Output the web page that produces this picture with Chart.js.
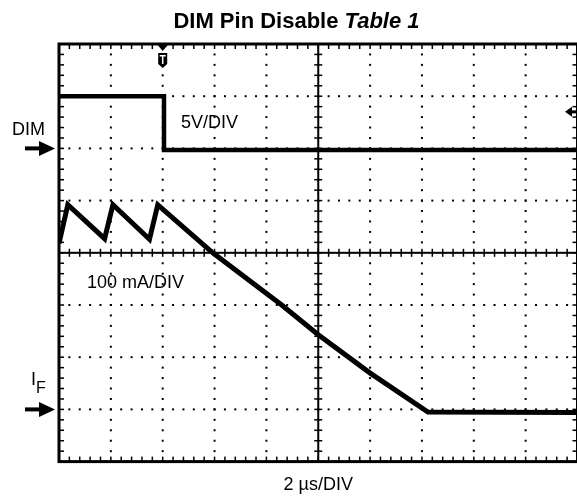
<!DOCTYPE html>
<html>
<head>
<meta charset="utf-8">
<title>DIM Pin Disable</title>
<script src="https://cdn.jsdelivr.net/npm/chart.js@4.4.0/dist/chart.umd.min.js"></script>
<style>
  html, body { margin: 0; padding: 0; background: #fff; overflow: hidden; }
  #wrap { position: relative; width: 580px; height: 498px; }
</style>
</head>
<body>
<div id="wrap"><canvas id="scope"></canvas></div>
<script>
// time base: 2 us/div, trigger at centre of screen
const dimTime = [-10, -5.95, -5.95, 10];
const dimVolts = [5.0, 5.0, -0.15, -0.15]; // 5 V/div

const ifTime = [-10, -9.66, -8.24, -7.92, -6.51, -6.19, -4.07, -1.41, 0, 1.99, 4.23, 10];
const ifCurrent = [318, 392, 327, 392, 326, 392, 300, 200, 143, 70, -5, -6]; // mA, 100 mA/div

const triggerTime = -6;
const triggerLevel = 3.5; // V on the DIM channel

const FONT = '"Liberation Sans", Arial, Helvetica, sans-serif';

const toPoints = (xs, ys) => xs.map((t, i) => ({ x: t, y: ys[i] }));

const graticule = {
  id: 'graticule',
  beforeDatasetsDraw(chart) {
    const { ctx, scales } = chart;
    const xs = [];
    const ys = [];
    for (let i = 0; i <= 10; i++) xs.push(scales.x.getPixelForValue(-10 + 2 * i));
    for (let j = 0; j <= 8; j++) ys.push(scales.yDim.getPixelForValue(10 - 5 * j));
    const dx = (xs[1] - xs[0]) / 5;
    const dy = (ys[1] - ys[0]) / 5;

    ctx.save();
    ctx.fillStyle = '#000';

    // dotted division lines
    for (let i = 1; i < 10; i++) {
      if (i === 5) continue;
      for (let k = 0; k <= 40; k++) ctx.fillRect(xs[i] - 1, ys[0] + k * dy - 1, 2, 2);
    }
    for (let j = 1; j < 8; j++) {
      if (j === 4) continue;
      for (let k = 0; k <= 50; k++) ctx.fillRect(xs[0] + k * dx - 1, ys[j] - 1, 2, 2);
    }

    // centre cross with minor ticks
    ctx.fillRect(xs[5] - 1, ys[0], 2, ys[8] - ys[0]);
    ctx.fillRect(xs[0], ys[4] - 1, xs[10] - xs[0], 2);
    for (let k = 0; k <= 40; k++) ctx.fillRect(xs[5] - 4, ys[0] + k * dy - 0.75, 8, 1.5);
    for (let k = 0; k <= 50; k++) ctx.fillRect(xs[0] + k * dx - 0.75, ys[4] - 4, 1.5, 8);

    // border with inward ticks
    ctx.strokeStyle = '#000';
    ctx.lineWidth = 3;
    ctx.strokeRect(xs[0], ys[0], xs[10] - xs[0], ys[8] - ys[0]);
    for (let k = 0; k <= 50; k++) {
      ctx.fillRect(xs[0] + k * dx - 0.75, ys[0], 1.5, 5);
      ctx.fillRect(xs[0] + k * dx - 0.75, ys[8] - 5, 1.5, 5);
    }
    for (let k = 0; k <= 40; k++) {
      ctx.fillRect(xs[0], ys[0] + k * dy - 0.75, 5, 1.5);
      ctx.fillRect(xs[10] - 5, ys[0] + k * dy - 0.75, 5, 1.5);
    }
    ctx.restore();
  },
};

const arrowRight = (ctx, xTip, y) => {
  ctx.fillRect(xTip - 30, y - 2, 18, 4);
  ctx.beginPath();
  ctx.moveTo(xTip, y);
  ctx.lineTo(xTip - 16, y - 7.5);
  ctx.lineTo(xTip - 16, y + 7.5);
  ctx.closePath();
  ctx.fill();
};

const labels = {
  id: 'labels',
  afterDraw(chart) {
    const { ctx, scales } = chart;
    const yDim = scales.yDim;
    const yIf = scales.yIf;
    const x = scales.x;
    ctx.save();
    ctx.fillStyle = '#000';
    ctx.textBaseline = 'alphabetic';

    // title, second half italic
    const t1 = 'DIM Pin Disable ';
    const t2 = 'Table 1';
    ctx.font = 'bold 22px ' + FONT;
    const w1 = ctx.measureText(t1).width;
    ctx.font = 'italic bold 22px ' + FONT;
    const w2 = ctx.measureText(t2).width;
    const tx = 296.5 - (w1 + w2) / 2;
    ctx.font = 'bold 22px ' + FONT;
    ctx.fillText(t1, tx, 27.5);
    ctx.font = 'italic bold 22px ' + FONT;
    ctx.fillText(t2, tx + w1, 27.5);

    ctx.font = '18px ' + FONT;
    ctx.fillText('DIM', 12, 135);
    ctx.fillText('5V/DIV', 181, 128);
    ctx.fillText('100 mA/DIV', 87, 288);
    ctx.textAlign = 'center';
    ctx.fillText('2 \u00b5s/DIV', x.getPixelForValue(0), 490);
    ctx.textAlign = 'left';
    ctx.fillText('I', 31, 385);
    ctx.font = '16px ' + FONT;
    ctx.fillText('F', 36, 393);

    // channel ground markers
    arrowRight(ctx, 55, yDim.getPixelForValue(0));
    arrowRight(ctx, 55, yIf.getPixelForValue(0));

    // trigger level marker on the right
    const yl = yDim.getPixelForValue(triggerLevel);
    ctx.beginPath();
    ctx.moveTo(565, yl);
    ctx.lineTo(572, yl - 5);
    ctx.lineTo(572, yl + 5);
    ctx.closePath();
    ctx.fill();
    ctx.fillRect(571, yl - 1.5, 6, 3);

    // trigger position marker at the top
    const xt = x.getPixelForValue(triggerTime);
    const top = chart.chartArea.top;
    ctx.beginPath();
    ctx.moveTo(xt - 6, top);
    ctx.lineTo(xt + 6, top);
    ctx.lineTo(xt, top + 7);
    ctx.closePath();
    ctx.fill();
    ctx.beginPath();
    ctx.moveTo(xt - 4.5, top + 9);
    ctx.lineTo(xt + 4.5, top + 9);
    ctx.lineTo(xt + 4.5, top + 20);
    ctx.lineTo(xt, top + 24);
    ctx.lineTo(xt - 4.5, top + 20);
    ctx.closePath();
    ctx.fill();
    ctx.fillStyle = '#fff';
    ctx.fillRect(xt - 3, top + 11, 6, 1.5);
    ctx.fillRect(xt - 0.75, top + 11, 1.5, 9);
    ctx.restore();
  },
};

const ctx = document.getElementById('scope').getContext('2d');

const config = {
  type: 'line',
  data: {
    datasets: [
      {
        label: 'DIM',
        data: toPoints(dimTime, dimVolts),
        yAxisID: 'yDim',
        borderColor: '#000',
        borderWidth: 4.5,
        pointRadius: 0,
        tension: 0,
      },
      {
        label: 'IF',
        data: toPoints(ifTime, ifCurrent),
        yAxisID: 'yIf',
        borderColor: '#000',
        borderWidth: 5,
        pointRadius: 0,
        tension: 0,
      },
    ],
  },
  options: {
    responsive: true,
    maintainAspectRatio: false,
    animation: false,
    layout: {
      padding: { left: 59, right: 2.5, top: 44, bottom: 36.4 },
    },
    plugins: {
      legend: { display: false },
      tooltip: { enabled: false },
    },
    scales: {
      x: { type: 'linear', min: -10, max: 10, display: false },
      yDim: { type: 'linear', min: -30, max: 10, display: false },
      yIf: { type: 'linear', min: -100, max: 700, display: false },
    },
  },
  plugins: [graticule, labels],
};

new Chart(ctx, config);
</script>
</body>
</html>
